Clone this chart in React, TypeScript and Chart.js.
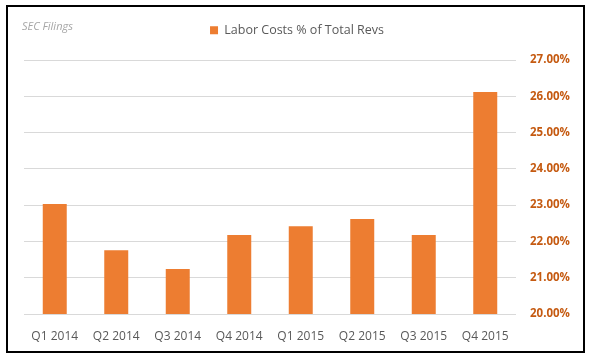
import React, { useEffect, useRef } from "react";
import { Chart, registerables } from "chart.js";

Chart.register(...registerables);

const categories = ["Q1 2014", "Q2 2014", "Q3 2014", "Q4 2014", "Q1 2015", "Q2 2015", "Q3 2015", "Q4 2015"];
const laborCostPct = [23.03, 21.76, 21.24, 22.18, 22.42, 22.62, 22.18, 26.12];
const seriesName = "Labor Costs % of Total Revs";
const sourceNote = "SEC Filings";
const yMin = 20;
const yMax = 27;
const yStep = 1;

const FONT = "'Open Sans', 'Liberation Sans', sans-serif";

const framePlugin = {
  id: "frame",
  afterDraw(chart: any) {
    const ctx = chart.ctx;
    ctx.save();
    ctx.strokeStyle = "#000000";
    ctx.lineWidth = 2;
    ctx.strokeRect(7, 6, 577, 346);
    ctx.fillStyle = "#a6a6a6";
    ctx.font = `italic 11px ${FONT}`;
    ctx.textAlign = "left";
    ctx.textBaseline = "middle";
    ctx.fillText(sourceNote, 22, 27);
    ctx.restore();
  },
};

export default function App() {
  const ref = useRef<HTMLCanvasElement>(null);
  useEffect(() => {
    const chart = new Chart(ref.current!, {
      type: "bar",
      data: {
        labels: categories,
        datasets: [
          {
            label: seriesName,
            data: laborCostPct,
            backgroundColor: "#ED7D31",
            borderWidth: 0,
            barPercentage: 0.39,
            categoryPercentage: 1,
          },
        ],
      },
      options: {
        animation: false,
        responsive: false,
        maintainAspectRatio: false,
        layout: { padding: { left: 5, right: 0, top: 0, bottom: 0 } },
        plugins: {
          legend: {
            labels: {
              boxWidth: 8,
              boxHeight: 8,
              color: "#595959",
              font: { family: FONT, size: 12.5 },
              padding: 24,
            },
          },
          title: {
            display: true,
            text: "",
            weight: 0,
            padding: 0,
            font: { size: 13.5, lineHeight: 1 },
          },
          tooltip: { enabled: false },
        },
        scales: {
          x: {
            grid: { display: false },
            border: { display: false },
            ticks: {
              color: "#595959",
              font: { family: FONT, size: 12 },
              padding: 7,
              maxRotation: 0,
            },
            afterFit(scale: any) {
              scale.height = 44;
            },
          },
          y: {
            position: "right",
            min: yMin,
            max: yMax,
            grid: { color: "#d9d9d9", drawTicks: false, lineWidth: 1 },
            border: { display: false },
            ticks: {
              stepSize: yStep,
              color: "#C55A11",
              font: { family: FONT, size: 11.5, weight: "bold" },
              padding: 14,
              callback: (v: any) => Number(v).toFixed(2) + "%",
            },
            afterFit(scale: any) {
              scale.width = 73;
            },
          },
          leftGap: {
            type: "linear",
            position: "left",
            grid: { display: false },
            border: { display: false },
            ticks: { display: false },
            afterFit(scale: any) {
              scale.width = 19;
            },
          },
        },
      },
      plugins: [framePlugin],
    });
    return () => chart.destroy();
  }, []);
  return (
    <div style={{ position: "absolute", left: 0, top: 0, width: 589, height: 358, background: "#fff" }}>
      <canvas ref={ref} width={589} height={358} style={{ width: 589, height: 358 }} />
    </div>
  );
}
